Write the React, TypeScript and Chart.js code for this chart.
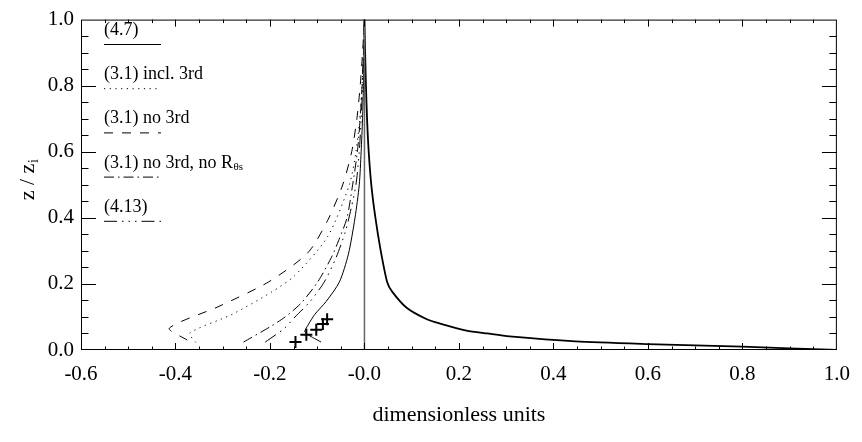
import React, { useEffect, useRef } from 'react';
import { Chart, registerables } from 'chart.js';

Chart.register(...registerables);

// ---- data ----
const xTickValues = [-0.6, -0.4, -0.2, 0.0, 0.2, 0.4, 0.6, 0.8, 1.0];
const yTickValues = [0.0, 0.2, 0.4, 0.6, 0.8, 1.0];

const legendLabels = ['(4.7)', '(3.1) incl. 3rd', '(3.1) no 3rd', '(3.1) no 3rd, no R', '(4.13)'];

// (4.7) solid, left branch
const eq47X = [-0.092, -0.126, -0.12, -0.105, -0.081, -0.053, -0.034, -0.02, -0.011, -0.007, -0.004, -0.002, -0.001, 0.0];
const eq47Y = [0.024, 0.054, 0.074, 0.108, 0.147, 0.206, 0.29, 0.4, 0.5, 0.6, 0.7, 0.8, 0.9, 1.0];

// (3.1) incl. 3rd, dotted
const incl3X = [-0.357, -0.37, -0.28, -0.196, -0.147, -0.078, -0.032, -0.018, -0.01, -0.005, -0.002, 0.0];
const incl3Y = [0.023, 0.051, 0.108, 0.176, 0.226, 0.343, 0.5, 0.6, 0.7, 0.8, 0.9, 1.0];

// (3.1) no 3rd, dashed
const no3X = [-0.375, -0.413, -0.308, -0.203, -0.12, -0.078, -0.046, -0.027, -0.016, -0.009, -0.004, 0.0];
const no3Y = [0.03, 0.066, 0.132, 0.206, 0.294, 0.392, 0.5, 0.6, 0.7, 0.8, 0.9, 1.0];

// (3.1) no 3rd, no R, dash-dot
const no3noRX = [-0.256, -0.2, -0.168, -0.134, -0.099, -0.07, -0.055, -0.037, -0.025, -0.015, -0.009, -0.005, -0.002, 0.0];
const no3noRY = [0.024, 0.07, 0.1, 0.142, 0.206, 0.28, 0.33, 0.4, 0.5, 0.6, 0.7, 0.8, 0.9, 1.0];

// (4.13) dash-dot-dot
const eq413X = [-0.21, -0.17, -0.147, -0.115, -0.085, -0.06, -0.04, -0.028, -0.018, -0.011, -0.007, -0.004, -0.002, 0.0];
const eq413Y = [0.024, 0.065, 0.1, 0.147, 0.206, 0.28, 0.36, 0.43, 0.5, 0.6, 0.7, 0.8, 0.9, 1.0];

// right-hand thick curve
const rightX = [1.0, 0.8, 0.6, 0.447, 0.307, 0.26, 0.216, 0.16, 0.132, 0.09, 0.059, 0.048, 0.034, 0.023, 0.0145, 0.009, 0.0055, 0.0032, 0.0014, 0.0];
const rightY = [0.0, 0.01, 0.018, 0.026, 0.041, 0.05, 0.059, 0.08, 0.093, 0.127, 0.176, 0.206, 0.304, 0.402, 0.5, 0.6, 0.7, 0.8, 0.9, 1.0];

// crosses
const crossX = [-0.146, -0.123, -0.102, -0.088, -0.079];
const crossY = [0.024, 0.046, 0.061, 0.079, 0.093];

// zero line
const zeroLineX = [0.0, 0.0];
const zeroLineY = [0.0, 1.0];

const pts = (xs: number[], ys: number[]) => xs.map((x, i) => ({ x, y: ys[i] }));

const SERIF = "'Liberation Serif', 'Times New Roman', serif";
const DOT = [1.2, 4.5];
const DASH = [9, 9];
const DASHDOT = [10, 4, 1.5, 4];
const DASHDOTDOT = [13, 5, 1.5, 5, 1.5, 5, 1.5, 5];
const legendDashes = [[], DOT, DASH, DASHDOT, DASHDOTDOT];

const framePlugin = {
  id: 'idlFrame',
  afterDraw(chart: any) {
    const ctx = chart.ctx as CanvasRenderingContext2D;
    const { left, right, top, bottom } = chart.chartArea;
    const xs = chart.scales.x;
    const ys = chart.scales.y;
    ctx.save();
    ctx.strokeStyle = '#000';
    ctx.lineWidth = 1;
    ctx.setLineDash([]);
    ctx.strokeRect(left + 0.5, top + 0.5, right - left - 1, bottom - top - 1);
    // x ticks (bottom & top), minor every 0.05
    for (let i = 1; i < 32; i++) {
      const v = -0.6 + i * 0.05;
      const px = Math.round(xs.getPixelForValue(v)) + 0.5;
      const len = i % 4 === 0 ? 7 : 3.5;
      ctx.beginPath();
      ctx.moveTo(px, bottom);
      ctx.lineTo(px, bottom - len);
      ctx.moveTo(px, top);
      ctx.lineTo(px, top + len);
      ctx.stroke();
    }
    for (let i = 1; i < 20; i++) {
      const v = i * 0.05;
      const py = Math.round(ys.getPixelForValue(v)) + 0.5;
      const len = i % 4 === 0 ? 15 : 7.5;
      ctx.beginPath();
      ctx.moveTo(left, py);
      ctx.lineTo(left + len, py);
      ctx.moveTo(right, py);
      ctx.lineTo(right - len, py);
      ctx.stroke();
    }
    // legend
    ctx.fillStyle = '#000';
    ctx.textBaseline = 'middle';
    ctx.textAlign = 'left';
    for (let i = 0; i < legendLabels.length; i++) {
      const ty = 30 + 44.3 * i;
      const ly = 44 + 44.2 * i;
      ctx.font = `18px ${SERIF}`;
      ctx.fillText(legendLabels[i], 104, ty);
      if (i === 3) {
        const w = ctx.measureText(legendLabels[i]).width;
        ctx.font = `11px ${SERIF}`;
        ctx.fillText('θs', 104 + w + 0.5, ty + 4);
      }
      ctx.beginPath();
      ctx.setLineDash(legendDashes[i]);
      ctx.moveTo(104, ly + 0.5);
      ctx.lineTo(161, ly + 0.5);
      ctx.stroke();
    }
    ctx.setLineDash([]);
    // x title
    ctx.font = `22px ${SERIF}`;
    ctx.textAlign = 'center';
    ctx.fillText('dimensionless units', (left + right) / 2, 415);
    // y title
    ctx.translate(28, 180);
    ctx.rotate(-Math.PI / 2);
    ctx.font = `22px ${SERIF}`;
    const main = 'z / z';
    const wm = ctx.measureText(main).width;
    ctx.font = `14px ${SERIF}`;
    const ws = ctx.measureText('i').width;
    const start = -(wm + ws) / 2;
    ctx.textAlign = 'left';
    ctx.font = `22px ${SERIF}`;
    ctx.fillText(main, start, 0);
    ctx.font = `14px ${SERIF}`;
    ctx.fillText('i', start + wm + 0.5, 6);
    ctx.restore();
  },
};

export default function App() {
  const ref = useRef<HTMLCanvasElement>(null);
  useEffect(() => {
    document.body.style.margin = '0';
    const line = (data: any[], dash: number[], width = 1, color = '#000') => ({
      data,
      showLine: true,
      borderColor: color,
      borderWidth: width,
      borderDash: dash,
      pointRadius: 0,
      tension: 0.25,
      fill: false,
    });
    const chart = new Chart(ref.current as HTMLCanvasElement, {
      type: 'scatter',
      data: {
        datasets: [
          { ...line(pts(zeroLineX, zeroLineY), [], 1.5, '#666'), tension: 0 },
          line(pts(eq47X, eq47Y), []),
          line(pts(incl3X, incl3Y), DOT),
          line(pts(no3X, no3Y), DASH),
          line(pts(no3noRX, no3noRY), DASHDOT),
          line(pts(eq413X, eq413Y), DASHDOTDOT),
          line(pts(rightX, rightY), [], 1.8),
          {
            data: pts(crossX, crossY),
            showLine: false,
            pointStyle: 'cross',
            pointRadius: 6,
            pointBorderWidth: 2,
            borderColor: '#000',
            backgroundColor: '#000',
          } as any,
        ],
      },
      options: {
        responsive: false,
        animation: false,
        layout: { padding: { left: 0, right: 18, top: 11, bottom: 0 } },
        plugins: { legend: { display: false }, tooltip: { enabled: false } },
        scales: {
          x: {
            type: 'linear',
            min: -0.6,
            max: 1.0,
            afterBuildTicks: (s: any) => {
              s.ticks = xTickValues.map((v) => ({ value: v }));
            },
            afterFit: (s: any) => {
              s.height = 92;
            },
            ticks: {
              autoSkip: false,
              maxRotation: 0,
              padding: 12,
              color: '#000',
              font: { family: SERIF, size: 21 },
              callback: (v: any) => (Math.abs(v) < 1e-9 ? '-0.0' : Number(v).toFixed(1)),
            },
            grid: { display: false, drawTicks: false },
            border: { display: false },
          },
          y: {
            type: 'linear',
            min: 0,
            max: 1.0,
            afterBuildTicks: (s: any) => {
              s.ticks = yTickValues.map((v) => ({ value: v }));
            },
            afterFit: (s: any) => {
              s.width = 81;
            },
            ticks: {
              autoSkip: false,
              padding: 7,
              color: '#000',
              font: { family: SERIF, size: 21 },
              callback: (v: any) => Number(v).toFixed(1),
            },
            grid: { display: false, drawTicks: false },
            border: { display: false },
          },
        },
      },
      plugins: [framePlugin],
    } as any);
    return () => chart.destroy();
  }, []);
  return (
    <div style={{ width: 862, height: 442 }}>
      <canvas ref={ref} width={862} height={442} style={{ display: 'block' }} />
    </div>
  );
}
